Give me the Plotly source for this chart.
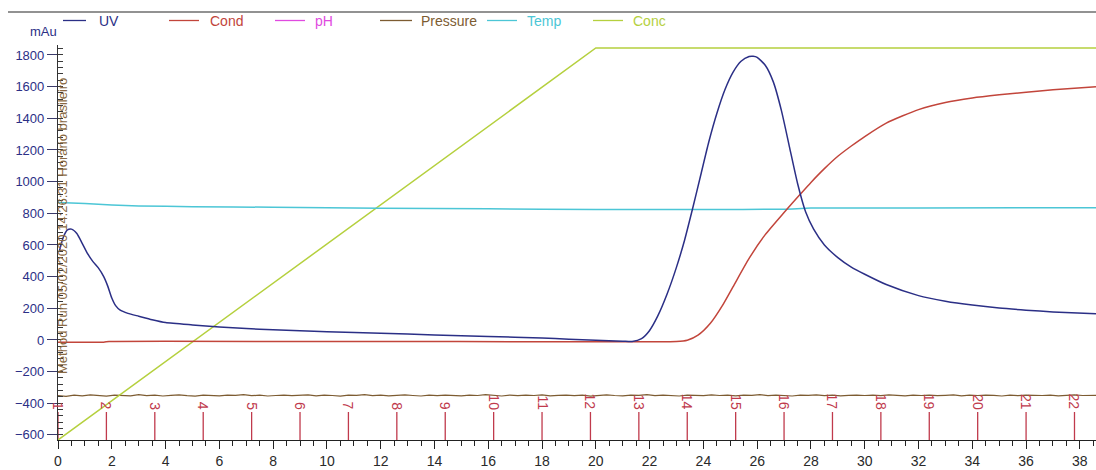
import plotly.graph_objects as go

# ---------------- data ----------------
uv_t = [0.05, 0.2, 0.35, 0.5, 0.7, 0.9, 1.1, 1.3, 1.5, 1.7, 1.85, 2.0, 2.15, 2.3, 2.6,
        3.0, 3.5, 4.0, 5.0, 6.0, 7.0, 8.0, 9.0, 10.0, 12.0, 14.0, 16.0, 18.0, 19.0, 20.0,
        21.0, 21.35, 21.7, 22.0, 22.3, 22.65, 23.0, 23.3, 23.6, 23.9, 24.2, 24.5, 24.8,
        25.1, 25.4, 25.7, 25.85, 26.0, 26.3, 26.6, 26.9, 27.2, 27.5, 27.8, 28.1, 28.5,
        29.0, 29.5, 30.0, 30.8, 32.0, 33.0, 34.0, 35.0, 36.0, 37.0, 38.6]
uv_v = [560, 650, 695, 700, 672, 610, 545, 495, 455, 400, 340, 265, 215, 190, 168,
        150, 128, 110, 95, 82, 72, 64, 58, 52, 42, 32, 22, 12, 5, -2,
        -8, -10, 8, 60, 150, 290, 460, 630, 830, 1040, 1250, 1430, 1580,
        1690, 1760, 1790, 1792, 1785, 1735, 1630, 1450, 1220, 990, 810, 700, 600,
        520, 460, 415, 350, 280, 245, 220, 201, 188, 177, 165]

cond_t = [0.0, 1.7, 1.9, 10.0, 20.0, 23.0, 23.4, 23.8, 24.26, 24.7, 25.1, 25.7, 26.3,
          27.0, 27.6, 28.0, 28.5, 29.0, 29.5, 30.0, 30.8, 32.0, 33.0, 34.0,
          35.0, 36.0, 37.0, 38.6]
cond_v = [-14, -14, -10, -10, -11, -10, -2, 30, 105, 215, 335, 515, 665,
          805, 920, 995, 1082, 1160, 1225, 1285, 1370, 1455, 1500, 1528,
          1548, 1565, 1580, 1600]

temp_t = [0.0, 1.0, 2.0, 3.0, 5.0, 8.0, 12.0, 16.0, 20.0, 24.0, 27.0, 28.0, 32.0, 38.6]
temp_v = [868, 862, 852, 846, 842, 838, 832, 828, 824, 824, 826, 833, 834, 835]

conc_t = [0.0, 20.0, 38.6]
conc_v = [-632, 1844, 1844]

pressure_v = [
    -352, -356, -349, -353, -347, -351, -355, -348, -350, -353,
    -346, -352, -349, -354, -350, -347, -352, -355, -349, -351,
    -353, -348, -350, -346, -352, -349, -354, -351, -348, -352,
    -350, -347, -353, -349, -351, -355, -348, -350, -346, -352,
    -349, -353, -350, -347, -351, -354, -349, -352, -348, -350,
    -353, -349, -351, -346, -350, -354, -348, -352, -349, -351,
    -347, -353, -350, -348, -352, -349, -355, -350, -347, -351,
    -353, -349, -350, -346, -352, -348, -351, -354, -349, -350,
    -352, -347, -351, -349, -353, -348, -350, -346, -352, -349,
    -351, -354, -348, -350, -347, -352, -349, -353, -350, -348,
    -351, -349, -352, -347, -350, -353, -349, -351, -348, -352,
    -350, -347, -353, -349, -351, -348, -350, -354, -349, -352,
    -348, -350, -351, -349, -353, -350, -347, -351, -349, -350]
pressure_t = [round(i * 0.3, 2) for i in range(len(pressure_v))]

fraction_t = [0.0, 1.8, 3.6, 5.4, 7.2, 9.0, 10.8, 12.6, 14.4, 16.2, 18.0, 19.8,
              21.6, 23.4, 25.2, 27.0, 28.8, 30.6, 32.4, 34.2, 36.0, 37.8]
fraction_labels = [str(i) for i in range(1, 23)]

y_ticks = [-600, -400, -200, 0, 200, 400, 600, 800, 1000, 1200, 1400, 1600, 1800]
x_ticks = list(range(0, 39, 2))

legend_names = ["UV", "Cond", "pH", "Pressure", "Temp", "Conc"]

run_text = "Method Run 05/02/2020 14:26:31 Horário brasileiro"

# ---------------- styles ----------------
C_UV = "#2b2f86"
C_COND = "#c2453b"
C_PH = "#e04ae0"
C_PRES = "#7d5c32"
C_TEMP = "#4cc6d6"
C_CONC = "#b5d03e"
C_FRAC = "#c03a4c"
FONT = "Liberation Sans, Arial, sans-serif"

Y_MIN, Y_MAX = -632, 1863
X_MIN, X_MAX = 0, 38.6

fig = go.Figure()

# fraction marker lines
fx, fy = [], []
for t in fraction_t:
    fx += [t, t, None]
    fy += [Y_MIN, -455, None]
fig.add_trace(go.Scatter(x=fx, y=fy, mode="lines", line=dict(color=C_FRAC, width=1.3),
                         hoverinfo="skip"))

fig.add_trace(go.Scatter(x=pressure_t, y=pressure_v, mode="lines",
                         line=dict(color=C_PRES, width=1.2)))
fig.add_trace(go.Scatter(x=conc_t, y=conc_v, mode="lines", line=dict(color=C_CONC, width=1.5)))
fig.add_trace(go.Scatter(x=temp_t, y=temp_v, mode="lines",
                         line=dict(color=C_TEMP, width=1.5, shape="spline", smoothing=0.5)))
fig.add_trace(go.Scatter(x=cond_t, y=cond_v, mode="lines",
                         line=dict(color=C_COND, width=1.5, shape="spline", smoothing=0.6)))
fig.add_trace(go.Scatter(x=uv_t, y=uv_v, mode="lines",
                         line=dict(color=C_UV, width=1.5, shape="spline", smoothing=0.6)))

annotations = []
for t, lab in zip(fraction_t, fraction_labels):
    annotations.append(dict(x=t, y=-455, xref="x", yref="y", text=lab, showarrow=False,
                            textangle=90, yanchor="bottom", xanchor="center",
                            font=dict(family=FONT, size=14, color=C_FRAC)))

annotations.append(dict(x=0, y=720, xref="x", yref="y", text=run_text, showarrow=False,
                        textangle=-90, xanchor="center", yanchor="middle", xshift=5,
                        font=dict(family=FONT, size=13, color="#8a6a44")))

annotations.append(dict(x=-30 / 1038, y=1.033, xref="paper", yref="paper", text="mAu",
                        showarrow=False, xanchor="left", yanchor="middle",
                        font=dict(family=FONT, size=13, color=C_UV)))

# manual legend (pixel positions converted to paper coords)
W, H0 = 1038.0, 395.0
def px(x):
    return (x - 58) / W
def py(y):
    return (440 - y) / H0

legend_spec = [
    (63, 86, 97, C_UV),
    (169, 199, 208, C_COND),
    (275, 305, 313, C_PH),
    (380, 412, 419, C_PRES),
    (487, 517, 525, C_TEMP),
    (593, 623, 631, C_CONC),
]
shapes = []
for name, (x0, x1, xt, col) in zip(legend_names, legend_spec):
    shapes.append(dict(type="line", xref="paper", yref="paper", x0=px(x0), x1=px(x1),
                       y0=py(20.5), y1=py(20.5), line=dict(color=col, width=1.3)))
    annotations.append(dict(x=px(xt), y=py(21), xref="paper", yref="paper", text=name,
                            showarrow=False, xanchor="left", yanchor="middle",
                            font=dict(family=FONT, size=14, color=col)))

# top frame line
shapes.append(dict(type="line", xref="paper", yref="paper", x0=px(8), x1=1.0,
                   y0=py(12), y1=py(12), line=dict(color="#6e6e6e", width=1.6)))

fig.update_layout(
    width=1096, height=470,
    margin=dict(l=58, r=0, t=45, b=30),
    paper_bgcolor="white", plot_bgcolor="white",
    showlegend=False,
    annotations=annotations,
    shapes=shapes,
    xaxis=dict(range=[X_MIN, X_MAX], tickvals=x_ticks, showgrid=False, zeroline=False,
               showline=True, linecolor="#222", linewidth=1.3,
               ticks="outside", ticklen=8, tickcolor="#222", tickwidth=1.2,
               minor=dict(ticks="outside", ticklen=5, dtick=0.5, tickcolor="#222", tickwidth=1),
               tickfont=dict(family=FONT, size=14, color="#2a2a2a")),
    yaxis=dict(range=[Y_MIN, Y_MAX], tickvals=y_ticks, showgrid=False, zeroline=False,
               showline=True, linecolor="#333", linewidth=1.2,
               ticks="outside", ticklen=10, tickcolor="#3a3a6a", tickwidth=1.2,
               minor=dict(ticks="inside", ticklen=5, dtick=40, tickcolor="#3a3a3a", tickwidth=1),
               tickfont=dict(family=FONT, size=13, color=C_UV)),
)

fig.write_html("out.html")
